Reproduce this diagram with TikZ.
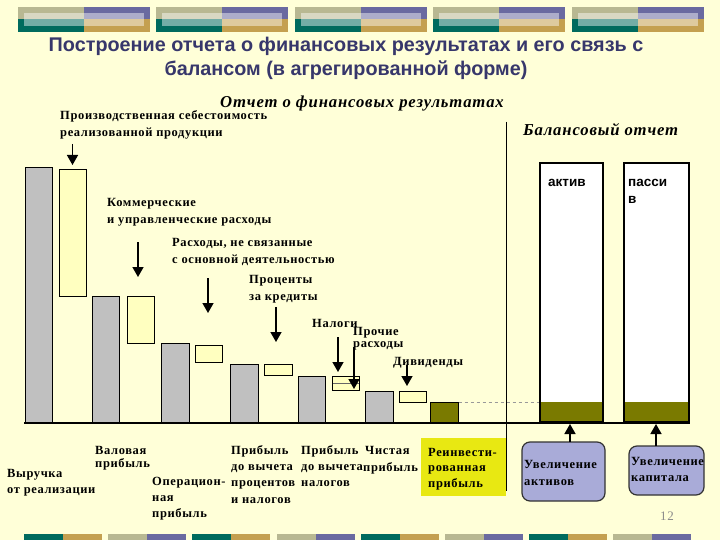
\documentclass[tikz,border=0pt]{standalone}
\usepackage{fontspec}
\setmainfont{Liberation Serif}[LetterSpace=5]
\newfontfamily\titlefont{Liberation Sans}
\newfontfamily\hfont{Liberation Serif}[LetterSpace=5]
\usetikzlibrary{arrows.meta}
\definecolor{bg}{HTML}{FFFFD8}
\definecolor{ttl}{HTML}{37376B}
\definecolor{barg}{HTML}{C0C0C0}
\definecolor{bary}{HTML}{FFFFC0}
\definecolor{olv}{HTML}{7A7A00}
\definecolor{lav}{HTML}{A9ABD8}
\definecolor{brightyel}{HTML}{E8E812}
\definecolor{dteal}{HTML}{006B5E}
\definecolor{dtan}{HTML}{C4A050}
\definecolor{dolive}{HTML}{B8B892}
\definecolor{dpurp}{HTML}{6A6AA0}
\newcommand\mkbox[6]{\node[#6,minimum width={(#4-#2)*1pt},minimum height={(#5-#3)*1pt}] (#1) at ({(#2+#4)/2},{(#3+#5)/2}) {};}
\begin{document}
\begin{tikzpicture}[x=1pt,y=-1pt,
  lbl/.style={anchor=base west,inner sep=0,font=\fontsize{12.5}{15}\selectfont\bfseries},
  hdr/.style={anchor=base west,inner sep=0,font=\hfont\fontsize{16.7}{19}\selectfont\bfseries\itshape},
  ttlstyle/.style={anchor=base,inner sep=0,text=ttl,font=\titlefont\fontsize{19.8}{22}\selectfont\bfseries},
  sbl/.style={anchor=base west,inner sep=0,font=\titlefont\fontsize{13.5}{15}\selectfont\bfseries},
  graybar/.style={draw=black,line width=1pt,fill=barg,inner sep=0,outer sep=0},
  yelbar/.style={draw=black,line width=1pt,fill=bary,inner sep=0,outer sep=0},
  olvbar/.style={draw=black,line width=1pt,fill=olv,inner sep=0,outer sep=0},
  balbox/.style={draw=black,line width=2pt,fill=white,inner sep=0,outer sep=0},
  rbox/.style={draw=black!80,line width=1.2pt,fill=lav,rounded corners=8pt,inner sep=0,outer sep=0},
  ybox/.style={fill=brightyel,inner sep=0,outer sep=0},
  arr/.style={line width=1.5pt,-{Triangle[length=10pt,width=11pt]}}]
\useasboundingbox (0,0) rectangle (720,540);
\fill[bg] (0,0) rectangle (720,540);
% top decoration
\foreach \i in {0,...,4}{
  \pgfmathsetmacro\xa{18+\i*138.4}
  \fill[dolive] (\xa,7) rectangle ({\xa+66},19.5);
  \fill[dpurp] ({\xa+66},7) rectangle ({\xa+132},19.5);
  \fill[dteal] (\xa,19.5) rectangle ({\xa+66},32);
  \fill[dtan] ({\xa+66},19.5) rectangle ({\xa+132},32);
  \fill[white,opacity=0.45] ({\xa+6},13) rectangle ({\xa+126},26);
}
% bottom decoration
\foreach \i in {0,...,7}{
  \pgfmathsetmacro\xb{24+\i*84.2}
  \pgfmathtruncatemacro\odd{mod(\i,2)}
  \ifnum\odd=0
    \fill[dteal] (\xb,534) rectangle ({\xb+39},540);
    \fill[dtan] ({\xb+39},534) rectangle ({\xb+78},540);
  \else
    \fill[dolive] (\xb,534) rectangle ({\xb+39},540);
    \fill[dpurp] ({\xb+39},534) rectangle ({\xb+78},540);
  \fi
}
% title
\node[ttlstyle] (t1) at (346,52) {Построение отчета о финансовых результатах и его связь с};
\node[ttlstyle] (t2) at (346,76) {балансом (в агрегированной форме)};
% headers
\node[hdr] (h1) at (220,108) {Отчет о финансовых результатах};
\node[hdr] (h2) at (523,136) {Балансовый отчет};
% divider
\coordinate (dvt) at (506,122);
\coordinate (dvb) at (506,491);
\draw[line width=1pt] (dvt) -- (dvb);
% bars
\mkbox{b1}{25}{168}{52}{423}{graybar}
\mkbox{y1}{59}{170}{86}{296}{yelbar}
\mkbox{b2}{92}{296}{119}{423}{graybar}
\mkbox{y2}{127}{296}{154}{343}{yelbar}
\mkbox{b3}{161}{343}{189}{423}{graybar}
\mkbox{y3}{195}{345}{222}{362}{yelbar}
\mkbox{b4}{230}{364}{258}{423}{graybar}
\mkbox{y4}{264}{364}{292}{375}{yelbar}
\mkbox{b5}{298}{376}{325}{423}{graybar}
\mkbox{y5}{332}{376}{359}{390}{yelbar}
\draw[black!60,line width=0.6pt] (332.5,383) -- (358.5,383);
\mkbox{b6}{365}{391}{393}{423}{graybar}
\mkbox{y6}{399}{391}{426}{402}{yelbar}
\mkbox{b7}{430}{402}{458}{423}{olvbar}
% balance boxes
\mkbox{act}{540}{163}{603}{422}{balbox}
\mkbox{pas}{624}{163}{689}{422}{balbox}
\fill[olv] (541,402) rectangle (602,421);
\fill[olv] (625,402) rectangle (688,421);
\draw[black!40,dashed,line width=0.5pt] (458.5,402) -- (539,402);
\node[sbl] (tact) at (548,187) {актив};
\node[sbl] (tpas1) at (628,187) {пасси};
\node[sbl] (tpas2) at (628,204) {в};
% baseline
\coordinate (bl1) at (24,423);
\coordinate (bl2) at (690,423);
\draw[line width=2pt] (bl1) -- (bl2);
% labels above
\node[lbl] (l1a) at (60,120) {Производственная себестоимость};
\node[lbl] (l1b) at (60,137) {реализованной продукции};
\node[lbl] (l2a) at (107,207) {Коммерческие};
\node[lbl] (l2b) at (107,223) {и управленческие расходы};
\node[lbl] (l3a) at (172,246) {Расходы, не связанные};
\node[lbl] (l3b) at (172,263) {с основной деятельностью};
\node[lbl] (l4a) at (249,283) {Проценты};
\node[lbl] (l4b) at (249,300) {за кредиты};
\node[lbl] (l5) at (312,327) {Налоги};
\node[lbl] (l6a) at (353,335) {Прочие};
\node[lbl] (l6b) at (353,347) {расходы};
\node[lbl] (l7) at (393,365) {Дивиденды};
% arrows down
\coordinate (a1s) at (72.5,144); \coordinate (a1e) at (72.5,165);
\coordinate (a2s) at (138,242); \coordinate (a2e) at (138,277);
\coordinate (a3s) at (208,278); \coordinate (a3e) at (208,313);
\coordinate (a4s) at (276,307); \coordinate (a4e) at (276,342);
\coordinate (a5s) at (338,337); \coordinate (a5e) at (338,372);
\coordinate (a6s) at (354,347); \coordinate (a6e) at (354,389);
\coordinate (a7s) at (407,365); \coordinate (a7e) at (407,386);
\foreach \k in {1,...,7}{\draw[arr] (a\k s) -- (a\k e);}
% labels below
\node[lbl] (v1a) at (7,477) {Выручка};
\node[lbl] (v1b) at (7,493) {от реализации};
\node[lbl] (v2a) at (95,454) {Валовая};
\node[lbl] (v2b) at (95,467) {прибыль};
\node[lbl] (v3a) at (152,485) {Операцион-};
\node[lbl] (v3b) at (152,501) {ная};
\node[lbl] (v3c) at (152,517) {прибыль};
\node[lbl] (v4a) at (231,454) {Прибыль};
\node[lbl] (v4b) at (231,470) {до вычета};
\node[lbl] (v4c) at (231,486) {процентов};
\node[lbl] (v4d) at (231,503) {и налогов};
\node[lbl] (v5a) at (301,454) {Прибыль};
\node[lbl] (v5b) at (301,470) {до вычета};
\node[lbl] (v5c) at (301,486) {налогов};
\node[lbl] (v6a) at (365,454) {Чистая};
\node[lbl] (v6b) at (363,471) {прибыль};
% reinvested box
\mkbox{rein}{421}{438}{506}{496}{ybox}
\draw[line width=1pt] (dvt) -- (dvb);
\node[lbl] (r1) at (428,456) {Реинвести-};
\node[lbl] (r2) at (428,471) {рованная};
\node[lbl] (r3) at (428,487) {прибыль};
% rounded boxes
\mkbox{inca}{522}{442}{605}{501}{rbox}
\mkbox{incc}{629}{446}{704}{495}{rbox}
\node[lbl] (ia1) at (524,468) {Увеличение};
\node[lbl] (ia2) at (524,485) {активов};
\node[lbl] (ic1) at (631,465) {Увеличение};
\node[lbl] (ic2) at (631,481) {капитала};
\coordinate (ua1) at (570,442); \coordinate (ue1) at (570,424);
\coordinate (ua2) at (656,446); \coordinate (ue2) at (656,424);
\draw[arr] (ua1) -- (ue1);
\draw[arr] (ua2) -- (ue2);
% page number
\node[anchor=base,inner sep=0,text=black!45,font=\fontsize{13}{15}\selectfont] (pg) at (667,520) {12};
\end{tikzpicture}
\end{document}
